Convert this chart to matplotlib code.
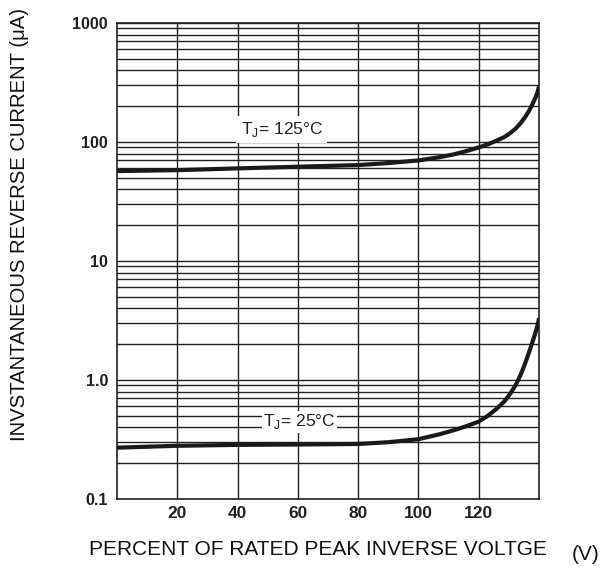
import matplotlib
matplotlib.use("Agg")
import matplotlib.pyplot as plt
from matplotlib.ticker import FixedLocator, NullFormatter, LogLocator

plt.rcParams['font.family'] = ['Liberation Sans', 'DejaVu Sans']

# Data
x_125 = [0, 10, 20, 40, 60, 80, 90, 100, 107, 112, 116, 120, 123, 126, 128.5, 130.5, 132.3, 134, 135.4, 136.7, 137.8, 138.8, 139.5, 140]
y_125 = [57, 57.5, 58, 60, 62, 64, 66.5, 70, 74.5, 79, 84, 90, 95.5, 103, 110, 119, 130, 145, 162, 183, 207, 235, 262, 292]

x_25 = [0, 20, 40, 60, 80, 90, 100, 107, 112, 116, 120, 123, 126, 128.5, 130.5, 132.3, 134, 135.4, 136.6, 137.6, 138.5, 139.2, 139.7, 140]
y_25 = [0.27, 0.28, 0.285, 0.287, 0.29, 0.30, 0.318, 0.35, 0.38, 0.41, 0.447, 0.50, 0.575, 0.66, 0.77, 0.91, 1.12, 1.38, 1.68, 2.0, 2.35, 2.7, 3.0, 3.3]

xticks = [20, 40, 60, 80, 100, 120]
yticks = [0.1, 1.0, 10, 100, 1000]
ytick_labels = ["0.1", "1.0", "10", "100", "1000"]

label_125 = r"T$_\mathregular{J}$= 125°C"
label_25 = r"T$_\mathregular{J}$= 25°C"
xlabel = "PERCENT OF RATED PEAK INVERSE VOLTGE"
ylabel = "INVSTANTANEOUS REVERSE CURRENT (μA)"

fig = plt.figure(figsize=(6.01, 5.67), dpi=100)
ax = fig.add_axes([117/601, 1-499/567, (539-117)/601, (499-23)/567])
ax.set_yscale('log')
ax.set_xlim(0, 140)
ax.set_ylim(0.1, 1000)

ax.xaxis.set_major_locator(FixedLocator(xticks))
ax.yaxis.set_major_locator(FixedLocator(yticks))
ax.yaxis.set_minor_locator(LogLocator(base=10, subs=range(2, 10)))
ax.yaxis.set_minor_formatter(NullFormatter())
ax.set_yticklabels(ytick_labels)
ax.set_xticklabels([str(v) for v in xticks])

ax.grid(True, which='major', axis='x', color='#222222', lw=1.0)
ax.grid(True, which='both', axis='y', color='#222222', lw=1.0)
ax.tick_params(which='both', length=0)
ax.tick_params(axis='y', pad=6.5)
ax.tick_params(axis='x', pad=5)
for lab in ax.get_yticklabels():
    lab.set_fontsize(11.5)
    lab.set_fontweight('bold')
    lab.set_color('#222222')
for lab in ax.get_xticklabels():
    lab.set_fontsize(12.5)
    lab.set_fontweight('bold')
    lab.set_color('#222222')
for s in ax.spines.values():
    s.set_color('#222222')
    s.set_linewidth(1.2)

ax.plot(x_125, y_125, color='#1a1a1a', lw=3.0, zorder=4, solid_capstyle='butt')
ax.plot(x_25, y_25, color='#1a1a1a', lw=3.0, zorder=4, solid_capstyle='butt')

ax.text(54.6, 128, label_125, fontsize=12.5, ha='center', va='center', color='#222222', zorder=3,
        bbox=dict(facecolor='white', edgecolor='none', pad=3.0))
ax.text(60.5, 0.445, label_25, fontsize=12.5, ha='center', va='center', color='#222222', zorder=3,
        bbox=dict(facecolor='white', edgecolor='none', pad=1.0))

fig.text(89/601, 1-555/567, xlabel, fontsize=15, ha='left', va='baseline', color='#111111')
fig.text(572/601, 1-560/567, "(V)", fontsize=15, ha='left', va='baseline', color='#111111')
fig.text(20/601, 1-225/567, ylabel, fontsize=14.6, rotation=90, ha='center', va='center', color='#111111')

fig.savefig('out.png', dpi=100)
